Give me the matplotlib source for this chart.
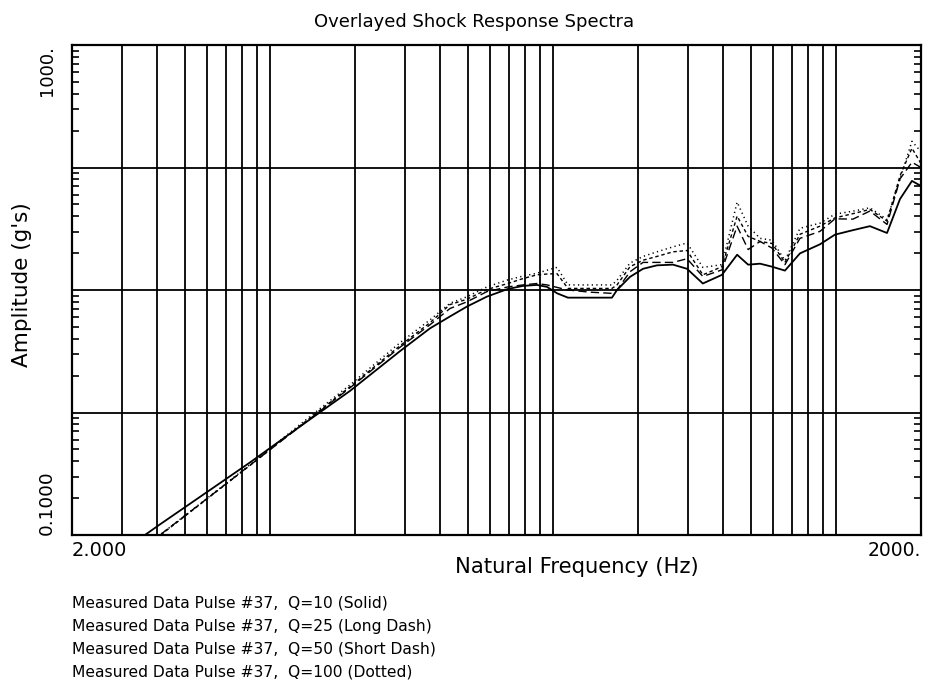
import matplotlib
matplotlib.use("Agg")
import matplotlib.pyplot as plt
from matplotlib.ticker import LogLocator, NullLocator, NullFormatter

# Natural frequencies (Hz) at which the spectra were evaluated
freq = [3.0, 3.62, 4.09, 5.67, 8.51, 12.8, 19.2, 28.8, 36.8, 43.3, 49.7, 58.5,
        69.4, 78.5, 87.9, 95.4, 103.5, 113.1, 135.4, 161.8, 168.6, 187.4, 208.4,
        233.4, 266, 298, 339, 396, 448, 490, 540, 595, 661, 747, 879, 993, 1150,
        1320, 1517, 1686, 1858, 2000]

# Peak response amplitude (g's) for each damping level
q10 = [0.074, 0.100, 0.122, 0.205, 0.391, 0.77, 1.50, 3.16, 4.86, 6.08, 7.32, 8.83,
       10.2, 10.8, 11.0, 10.6, 9.4, 8.66, 8.66, 8.66, 10.0, 12.8, 14.9,
       15.9, 16.1, 14.9, 11.3, 13.3, 19.4, 16.1, 16.4, 15.5, 14.4, 19.9, 23.6, 28.3, 30.8,
       33.2, 29.2, 55.3, 77.7, 70.7]
q25 = [0.057, 0.080, 0.100, 0.179, 0.371, 0.77, 1.59, 3.4, 5.2, 7.06, 8.0, 9.7,
       10.6, 11.0, 11.3, 11.0, 10.5, 10.0, 9.6, 9.39, 10.0, 14.1, 16.8,
       16.8, 16.8, 18.0, 12.9, 14.6, 33.2, 21.4, 24.9, 22.0, 16.1, 26.4, 30.1, 38.1, 37.9,
       44.1, 34.3, 80.7, 110.4, 100.0]
q50 = [0.056, 0.079, 0.099, 0.178, 0.370, 0.78, 1.62, 3.5, 5.4, 7.6, 8.4, 10.1,
       11.3, 12.4, 13.3, 13.5, 13.6, 10.3, 10.3, 10.3, 11.0, 15.5, 17.5,
       18.8, 20.5, 21.0, 13.3, 15.5, 40.1, 27.4, 24.9, 24.0, 16.8, 28.5, 33.2, 38.8, 42.0,
       45.5, 36.5, 85.5, 143.9, 107.6]
q100 = [0.057, 0.080, 0.100, 0.180, 0.375, 0.80, 1.68, 3.7, 5.7, 7.79, 8.8, 10.6,
        12.1, 13.0, 13.7, 14.5, 15.3, 11.0, 11.0, 11.0, 12.0, 16.6, 18.8,
        20.5, 22.5, 24.2, 15.3, 16.1, 52.2, 33.2, 26.4, 25.5, 17.4, 31.9, 35.1, 41.6, 44.0,
        46.9, 37.6, 80.7, 163.7, 134.5]

x_grid = [3, 4, 5, 6, 7, 8, 9, 10, 20, 30, 40, 50, 60, 70, 80, 90, 100,
          200, 300, 400, 500, 600, 700, 800, 900, 1000]
y_grid = [1, 10, 100]

legend_lines = [
    "Measured Data Pulse #37,  Q=10 (Solid)",
    "Measured Data Pulse #37,  Q=25 (Long Dash)",
    "Measured Data Pulse #37,  Q=50 (Short Dash)",
    "Measured Data Pulse #37,  Q=100 (Dotted)",
]

plt.rcParams['font.family'] = ['DejaVu Sans']

W, H = 927, 681
fig = plt.figure(figsize=(W / 100, H / 100), dpi=100)
fig.patch.set_facecolor('white')
ax = fig.add_axes([72 / W, (H - 535) / H, (921 - 72) / W, (535 - 45) / H])
ax.set_xscale('log')
ax.set_yscale('log')
ax.set_xlim(2, 2000)
ax.set_ylim(0.1, 1000)

for v in x_grid:
    ax.axvline(v, color='black', lw=1.3, zorder=1)
for v in y_grid:
    ax.axhline(v, color='black', lw=1.3, zorder=1)

ax.plot(freq, q10, color='black', lw=1.3, zorder=3)
ax.plot(freq, q25, color='black', lw=1.0, dashes=(6, 3), zorder=3)
ax.plot(freq, q50, color='black', lw=1.0, dashes=(2.5, 2), zorder=3)
ax.plot(freq, q100, color='black', lw=1.1, dashes=(0.8, 2.2), zorder=3)

for s in ax.spines.values():
    s.set_linewidth(1.6)
    s.set_color('black')

ax.xaxis.set_major_locator(NullLocator())
ax.xaxis.set_minor_locator(NullLocator())
ax.yaxis.set_major_locator(NullLocator())
ax.yaxis.set_minor_locator(LogLocator(base=10, subs=[2, 3, 4, 5, 6, 7, 8, 9], numticks=20))
ax.yaxis.set_minor_formatter(NullFormatter())
ax.tick_params(axis='y', which='minor', direction='in', length=5, width=1.2,
               left=True, right=True, labelleft=False)

# end labels of the axes
ax.text(0.0, -0.012, "2.000", transform=ax.transAxes, ha='left', va='top', fontsize=14)
ax.text(1.0, -0.012, "2000.", transform=ax.transAxes, ha='right', va='top', fontsize=13.5)
ax.text(-0.0295, 1.0, "1000.", transform=ax.transAxes, ha='center', va='top',
        rotation=90, fontsize=13)
ax.text(-0.0295, 0.0, "0.1000", transform=ax.transAxes, ha='center', va='bottom',
        rotation=90, fontsize=13.3)

fig.text(474 / W, 1 - 22 / H, "Overlayed Shock Response Spectra", ha='center', va='center',
         fontsize=13)
fig.text(577 / W, 1 - 567 / H, "Natural Frequency (Hz)", ha='center', va='center',
         fontsize=15.2)
fig.text(22 / W, 1 - 285 / H, "Amplitude (g's)", ha='center', va='center', rotation=90,
         fontsize=15.5)

for i, line in enumerate(legend_lines):
    fig.text(72 / W, 1 - (603 + 23 * i) / H, line, ha='left', va='center', fontsize=11.2)

fig.savefig("out.png", dpi=100, facecolor='white')
